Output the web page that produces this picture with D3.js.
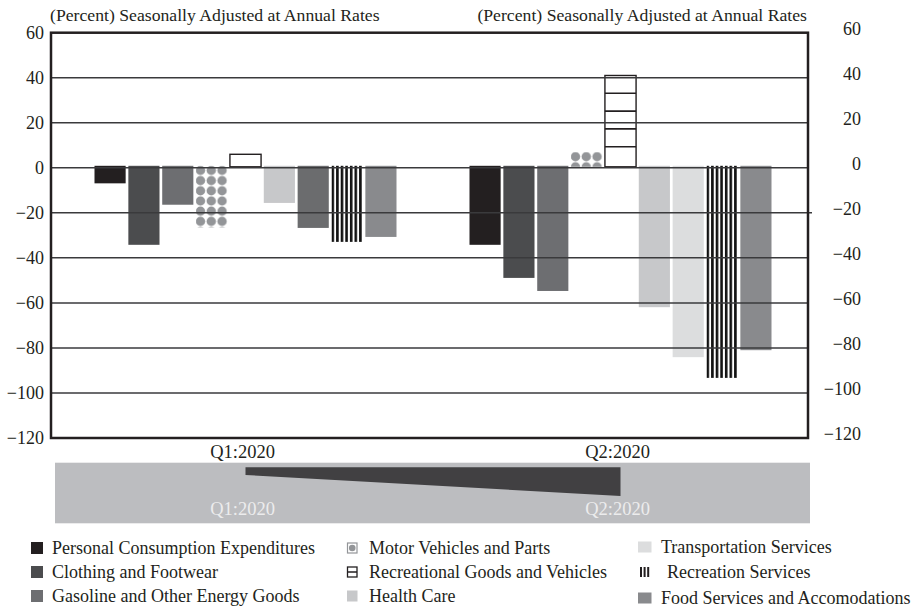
<!DOCTYPE html>
<html><head><meta charset="utf-8">
<script src="https://cdn.jsdelivr.net/npm/d3@7"></script>
<style>
body{margin:0;background:#fff}
text{font-family:"Liberation Serif","Times New Roman",serif;fill:#231f20}
</style>
</head><body><svg id="c" width="916" height="611"></svg>
<script>
const categories = ["Personal Consumption Expenditures","Clothing and Footwear","Gasoline and Other Energy Goods","Motor Vehicles and Parts","Recreational Goods and Vehicles","Health Care","Transportation Services","Recreation Services","Food Services and Accomodations"];
const quarters = ["Q1:2020","Q2:2020"];
const q1Values = [-6.9,-34.2,-16.4,-26.5,6.0,-15.6,-26.7,-32.9,-30.7];
const q2Values = [-34.2,-48.9,-54.7,7.0,41.0,-61.9,-84.1,-93.3,-81.0];
const yTicks = [60,40,20,0,-20,-40,-60,-80,-100,-120];
const axisTitle = "(Percent) Seasonally Adjusted at Annual Rates";
const pceTrend = [q1Values[0], q2Values[0]];

const fills = ["#231f20","#4b4c4e","#6d6e71","dots","lines","#c7c8ca","#dcddde","stripes","#898a8d"];
const q1TransportFill = "#6b6c6e";

const svg = d3.select("#c");
const plot = {l:51, r:808, t:32.7, b:438};
const y = d3.scaleLinear().domain([-120,60]).range([plot.b, plot.t]);
const gx = d3.scaleBand().domain(quarters).range([58,808]).padding(0);
const bx = d3.scaleBand().domain(categories).range([-151,151]).paddingInner(0.08);
const gc = q => gx(q) + gx.bandwidth()/2;

const data = quarters.flatMap((q,qi)=>categories.map((c,ci)=>({q,qi,c,ci,v:(qi?q2Values:q1Values)[ci]})));
data.forEach(d=>{
  d.x = gc(d.q) + bx(d.c);
  d.w = bx.bandwidth();
  if(d.v<0){ d.top = y(0)-2; d.bot = y(d.v); } else { d.top = y(d.v); d.bot = y(0)-1; }
});

const defs = svg.append("defs");
data.forEach((d,i)=>{
  const f = fills[d.ci];
  if(f==="dots"){
    const p = defs.append("pattern").attr("id","dots"+i).attr("patternUnits","userSpaceOnUse")
      .attr("x",d.x-1).attr("y",d.top-0.5).attr("width",10.8).attr("height",10.2);
    p.append("circle").attr("cx",5.4).attr("cy",5.1).attr("r",4.7).attr("fill","#939598");
    d.fill = "url(#dots"+i+")";
  } else if(f==="stripes"){
    const p = defs.append("pattern").attr("id","str"+i).attr("patternUnits","userSpaceOnUse")
      .attr("x",d.x).attr("y",0).attr("width",4.6).attr("height",10);
    p.append("rect").attr("x",0).attr("y",0).attr("width",2.6).attr("height",10).attr("fill","#111");
    d.fill = "url(#str"+i+")";
  } else if(f==="lines"){
    d.fill = "#fff";
  } else {
    d.fill = (d.qi===0 && d.ci===6) ? q1TransportFill : f;
  }
});

// bars
const bars = svg.append("g");
bars.selectAll("rect").data(data).join("rect")
  .attr("x",d=>d.x).attr("y",d=>d.top).attr("width",d=>d.w).attr("height",d=>d.bot-d.top)
  .attr("fill",d=>d.fill)
  .attr("stroke",d=>fills[d.ci]==="lines"?"#231f20":"none")
  .attr("stroke-width",1.4);
// horizontal lines inside recreational goods bars
data.filter(d=>fills[d.ci]==="lines").forEach(d=>{
  const ys = d3.range(d.top+17.8, d.bot-6, 17.8);
  bars.selectAll(null).data(ys).join("line")
    .attr("x1",d.x).attr("x2",d.x+d.w).attr("y1",v=>v).attr("y2",v=>v)
    .attr("stroke","#231f20").attr("stroke-width",1.6);
});

// gridlines
svg.append("g").selectAll("line").data(yTicks.filter(t=>t<60&&t>-120)).join("line")
  .attr("x1",plot.l).attr("x2",t=>t===-20?812:plot.r).attr("y1",t=>y(t)).attr("y2",t=>y(t))
  .attr("stroke","#3a3a3c").attr("stroke-width",1.5);

// frame
svg.append("rect").attr("x",plot.l).attr("y",plot.t).attr("width",plot.r-plot.l).attr("height",plot.b-plot.t)
  .attr("fill","none").attr("stroke","#231f20").attr("stroke-width",2.5);

// axes
const fmt = d3.format("");
const la = svg.append("g").attr("transform",`translate(${plot.l},0)`)
  .call(d3.axisLeft(y).tickValues(yTicks).tickSize(0).tickPadding(7).tickFormat(fmt));
const ra = svg.append("g").attr("transform",`translate(868,-4)`)
  .call(d3.axisLeft(y).tickValues(yTicks).tickSize(0).tickPadding(7).tickFormat(fmt));
[la,ra].forEach(a=>{
  a.select(".domain").remove();
  a.attr("font-family",null).attr("font-size",null);
  a.selectAll("text").attr("font-size",18).attr("fill","#231f20");
});

// titles
svg.append("text").attr("x",50).attr("y",21).attr("font-size",17.7).text(axisTitle);
svg.append("text").attr("x",807).attr("y",21).attr("font-size",17.7).attr("text-anchor","end").text(axisTitle);

// quarter labels
svg.append("g").selectAll("text").data(quarters).join("text")
  .attr("x",q=>gc(q)-3).attr("y",458).attr("text-anchor","middle").attr("font-size",18.5).text(q=>q);

// mini overview
const mini = {l:55, r:810, t:462.7, b:523.3};
svg.append("rect").attr("x",mini.l).attr("y",mini.t).attr("width",mini.r-mini.l).attr("height",mini.b-mini.t).attr("fill","#bcbdc0");
const miniY = d3.scaleLinear().domain([0,-40]).range([469.7,500.5]);
const miniArea = d3.area().x((d,i)=>gc(quarters[i])).y0(467.3).y1(d=>miniY(d));
svg.append("path").datum(pceTrend).attr("d",miniArea).attr("fill","#414042");
svg.append("g").selectAll("text").data(quarters).join("text")
  .attr("x",q=>gc(q)-3).attr("y",515).attr("text-anchor","middle").attr("font-size",18.5)
  .style("fill","#ececed").text(q=>q);

// legend
const legCols = [{ix:31, tx:52},{ix:347, tx:369},{ix:638, tx:661}];
const rowsY = [548,572,596];
const leg = svg.append("g");
categories.forEach((c,i)=>{
  const col = legCols[Math.floor(i/3)], cy = rowsY[i%3] + (i===8?2:0) - (i===6?1:0);
  const g = leg.append("g");
  const f = fills[i];
  if(f==="dots"){
    g.append("rect").attr("x",col.ix+0.5).attr("y",cy-5).attr("width",9.5).attr("height",10).attr("fill","#fff").attr("stroke","#939598").attr("stroke-width",1.2);
    g.append("circle").attr("cx",col.ix+5.25).attr("cy",cy).attr("r",3.3).attr("fill","#939598");
  } else if(f==="lines"){
    g.append("rect").attr("x",col.ix+0.5).attr("y",cy-5).attr("width",9.5).attr("height",10).attr("fill","#fff").attr("stroke","#231f20").attr("stroke-width",1.3);
    g.append("line").attr("x1",col.ix+0.5).attr("x2",col.ix+10).attr("y1",cy).attr("y2",cy).attr("stroke","#231f20").attr("stroke-width",1.5);
  } else if(f==="stripes"){
    g.selectAll(null).data(d3.range(3)).join("rect").attr("x",k=>col.ix+2+k*3.6).attr("y",cy-5).attr("width",2).attr("height",10).attr("fill","#231f20");
  } else {
    const sz = i<3?12:(i<6?10.5:13.5);
    g.append("rect").attr("x",col.ix).attr("y",cy-(i<3?6:5.5)).attr("width",sz).attr("height",i<3?12:11).attr("fill",f);
  }
  g.append("text").attr("x",col.tx + (i===7?6:0)).attr("y",cy).attr("dy","0.35em").attr("font-size",18).text(c);
});
</script>
</body></html>
